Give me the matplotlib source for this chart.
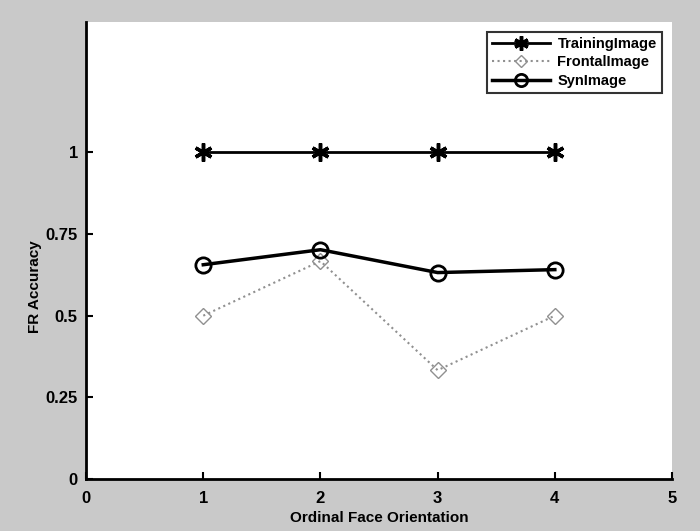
import matplotlib.pyplot as plt

plt.rcParams['font.family'] = ['Liberation Sans', 'DejaVu Sans']
plt.rcParams['font.weight'] = 'bold'

# 数据
orientations = [1, 2, 3, 4]
training = [1, 1, 1, 1]
frontal = [0.5, 0.667, 0.333, 0.5]
syn = [0.656, 0.702, 0.632, 0.641]

fig = plt.figure(figsize=(7, 5.31), dpi=100, facecolor='#c9c9c9')
ax = fig.add_axes([0.123, 0.098, 0.837, 0.861])

ax.plot(orientations, training, '-', color='black', lw=2, marker=(6, 2, 0),
        ms=13, mew=2.5, label='TrainingImage')
ax.plot(orientations, frontal, ':D', color='#909090', lw=1.5, ms=8,
        markerfacecolor='none', label='FrontalImage')
ax.plot(orientations, syn, '-o', color='black', lw=2.5, ms=11, mew=2,
        markerfacecolor='none', label='SynImage')

ax.set_xlim(0, 5)
ax.set_ylim(0, 1.4)
ax.set_xticks([0, 1, 2, 3, 4, 5])
ax.set_yticks([0, 0.25, 0.5, 0.75, 1])
ax.set_yticklabels(['0', '0.25', '0.5', '0.75', '1'])
ax.tick_params(direction='in', width=1.5, length=5, labelsize=12)
ax.tick_params(axis='x', pad=9)
ax.tick_params(axis='y', pad=6)
for s in ['top', 'right']:
    ax.spines[s].set_visible(False)
for s in ['left', 'bottom']:
    ax.spines[s].set_linewidth(2)

ax.set_xlabel('Ordinal Face Orientation', fontsize=11, fontweight='bold', labelpad=3)
ax.set_ylabel('FR Accuracy', fontsize=11, fontweight='bold', labelpad=4)
ax.yaxis.set_label_coords(-0.075, 0.42)

leg = ax.legend(loc='upper right', fancybox=False, edgecolor='black', fontsize=10.5,
                borderaxespad=0.7, handlelength=4, labelspacing=0.3,
                borderpad=0.35, handletextpad=0.5, markerscale=0.8)
leg.get_frame().set_linewidth(1.5)

fig.savefig('out.png', dpi=100, facecolor=fig.get_facecolor())
